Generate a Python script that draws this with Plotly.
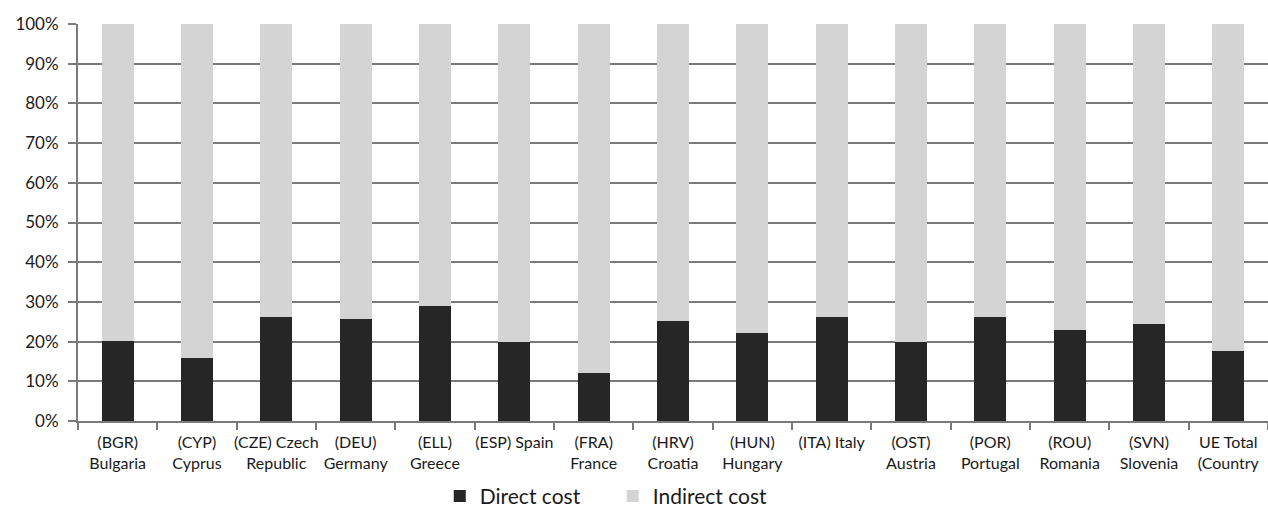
import plotly.graph_objects as go

categories = ["(BGR)<br>Bulgaria", "(CYP)<br>Cyprus", "(CZE) Czech<br>Republic", "(DEU)<br>Germany",
              "(ELL)<br>Greece", "(ESP) Spain", "(FRA)<br>France", "(HRV)<br>Croatia",
              "(HUN)<br>Hungary", "(ITA) Italy", "(OST)<br>Austria", "(POR)<br>Portugal",
              "(ROU)<br>Romania", "(SVN)<br>Slovenia", "UE Total<br>(Country"]
direct_cost = [20.2, 15.9, 26.3, 25.8, 29.0, 20.0, 12.2, 25.3, 22.1, 26.3, 19.8, 26.1, 23.0, 24.4, 17.7]
indirect_cost = [100 - v for v in direct_cost]
y_ticks = list(range(0, 101, 10))
y_ticklabels = [f"{v}%" for v in y_ticks]

font_family = "Lato, 'Open Sans', sans-serif"
grid_col = "#7a7a7a"

fig = go.Figure()
fig.add_trace(go.Bar(x=categories, y=direct_cost, name="Direct cost",
                     marker=dict(color="#262626", line=dict(width=0))))
fig.add_trace(go.Bar(x=categories, y=indirect_cost, name="Indirect cost",
                     marker=dict(color="#d4d4d4", line=dict(width=0))))

fig.update_layout(
    barmode="stack",
    bargap=0.6,
    width=1268, height=510,
    margin=dict(l=78, r=0, t=24, b=89, autoexpand=False),
    paper_bgcolor="white", plot_bgcolor="white",
    font=dict(family=font_family, size=16, color="#1a1a1a"),
    showlegend=True,
    legend=dict(orientation="h", x=0.304, xanchor="left", y=-0.19, yanchor="middle",
                font=dict(size=21, family=font_family), traceorder="normal",
                itemwidth=30, entrywidth=128, entrywidthmode="pixels"),
)
fig.update_xaxes(
    showgrid=False, showline=True, linecolor=grid_col, linewidth=2,
    ticks="outside", tickson="boundaries", ticklen=7, tickwidth=2, tickcolor=grid_col,
    tickfont=dict(size=16, family=font_family, color="#1a1a1a"), tickangle=0,
    ticklabelstandoff=6, automargin=False,
)
fig.update_yaxes(
    range=[0, 100], tickvals=y_ticks, ticktext=y_ticklabels,
    showgrid=True, gridcolor=grid_col, gridwidth=2,
    showline=True, linecolor=grid_col, linewidth=2,
    ticks="outside", ticklen=8, tickwidth=2, tickcolor=grid_col,
    tickfont=dict(size=17, family=font_family, color="#1a1a1a"),
    ticklabelstandoff=6, automargin=False,
    zeroline=False,
)

fig.write_html("out.html")
